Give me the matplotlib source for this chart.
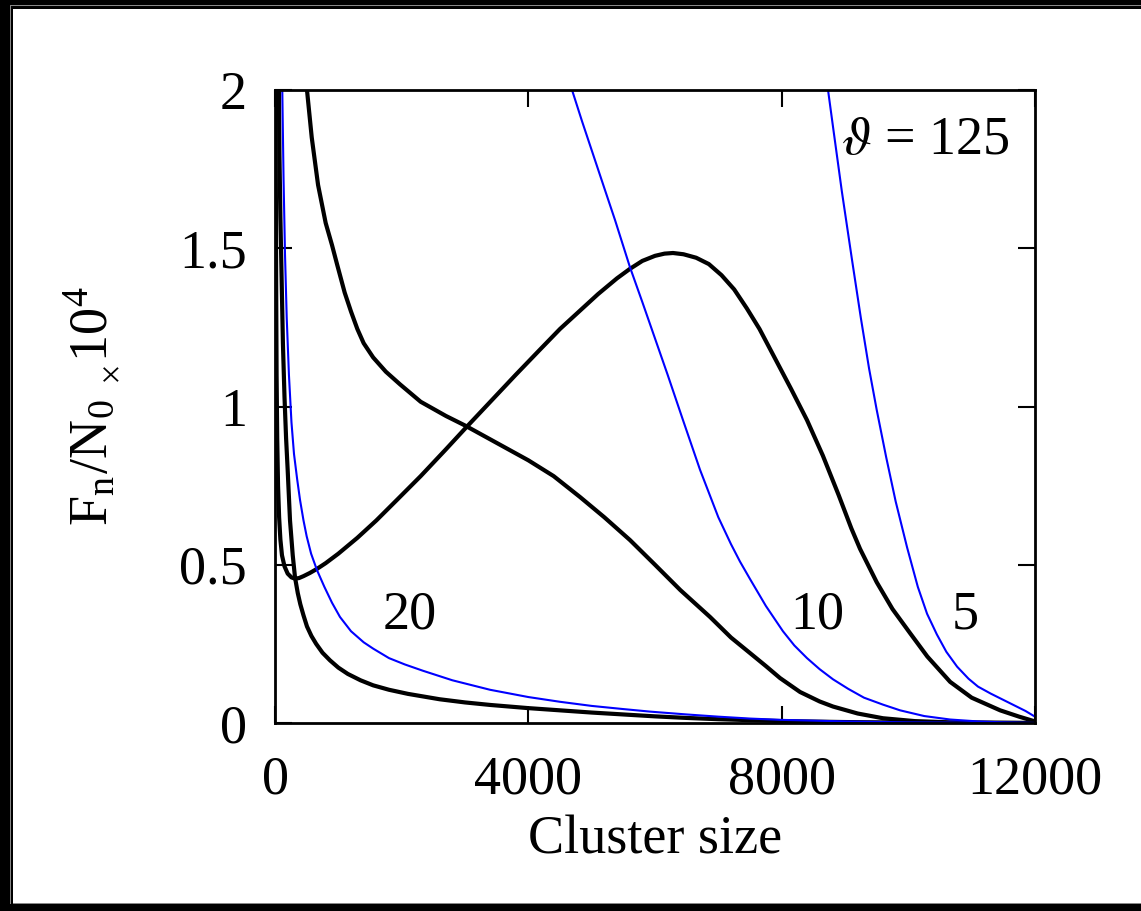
import matplotlib
matplotlib.use('Agg')
import matplotlib.pyplot as plt
from matplotlib.patches import Rectangle

plt.rcParams['font.family'] = ['Liberation Serif', 'DejaVu Serif']
plt.rcParams['mathtext.fontset'] = 'stix'

# cluster-size distributions, F_n/N_0 x 10^4
xticks = [0, 4000, 8000, 12000]
yticks = [0, 0.5, 1, 1.5, 2]
yticklabels = ['0', '0.5', '1', '1.5', '2']

# black curves
k20_x = [40, 55, 70, 85, 100, 125, 150, 175, 200, 237, 280, 316, 360, 400, 450, 505,
         575, 650, 750, 868, 1000, 1150, 1350, 1550, 1800, 2100, 2600, 3000, 3400,
         4000, 4500, 5000, 5500, 6000, 6500, 7000, 7500, 8000, 9000, 10000, 12000]
k20_y = [2.6, 2.15, 1.8, 1.6, 1.45, 1.2, 1.03, 0.9, 0.8, 0.64, 0.53, 0.46, 0.41, 0.375,
         0.34, 0.305, 0.275, 0.25, 0.222, 0.198, 0.175, 0.155, 0.135, 0.119, 0.105,
         0.092, 0.075, 0.065, 0.057, 0.047, 0.04, 0.033, 0.027, 0.021, 0.016, 0.012,
         0.009, 0.006, 0.003, 0.0012, 0.0]

k5_x = [8, 12, 18, 25, 35, 48, 65, 85, 110, 150, 200, 260, 316, 380, 450, 550, 663,
        800, 1000, 1300, 1600, 1926, 2300, 2700, 3000, 3400, 3800, 4185, 4500, 4800,
        5100, 5400, 5605, 5800, 6000, 6150, 6284, 6450, 6650, 6850, 7050, 7250, 7450,
        7650, 7900, 8150, 8400, 8650, 8900, 9100, 9238, 9500, 9750, 10027, 10300,
        10660, 11000, 11450, 11750, 12000]
k5_y = [2.3, 1.8, 1.4, 1.1, 0.9, 0.75, 0.65, 0.58, 0.53, 0.495, 0.472, 0.46, 0.456,
        0.458, 0.464, 0.474, 0.487, 0.505, 0.535, 0.585, 0.64, 0.705, 0.78, 0.865, 0.93,
        1.015, 1.1, 1.18, 1.245, 1.3, 1.355, 1.405, 1.435, 1.46, 1.476, 1.483, 1.485,
        1.481, 1.47, 1.45, 1.415, 1.37, 1.31, 1.245, 1.15, 1.055, 0.957, 0.845, 0.72,
        0.615, 0.55, 0.445, 0.36, 0.284, 0.21, 0.13, 0.08, 0.04, 0.02, 0.005]

k10_x = [440, 505, 580, 680, 800, 900, 979, 1100, 1200, 1300, 1400, 1550, 1750, 1974,
         2300, 2700, 3000, 3500, 4000, 4400, 4816, 5200, 5605, 6000, 6400, 6869, 7200,
         7500, 7750, 7974, 8290, 8600, 8811, 9200, 9600, 10100, 10660, 12000]
k10_y = [2.25, 2.0, 1.85, 1.7, 1.58, 1.51, 1.45, 1.36, 1.3, 1.245, 1.2, 1.155, 1.11,
         1.07, 1.015, 0.97, 0.94, 0.885, 0.83, 0.78, 0.714, 0.65, 0.578, 0.5, 0.42,
         0.335, 0.27, 0.221, 0.18, 0.142, 0.098, 0.068, 0.052, 0.03, 0.015, 0.006,
         0.002, 0.0]

# blue curves
b20_x = [100, 115, 135, 158, 185, 220, 260, 300, 350, 395, 450, 500, 570, 663, 780,
         900, 1026, 1200, 1400, 1550, 1800, 2050, 2337, 2800, 3395, 4000, 4500, 5000,
         5500, 5920, 6500, 7000, 7500, 7974, 9000, 10000, 12000]
b20_y = [2.25, 2.0, 1.72, 1.48, 1.28, 1.1, 0.95, 0.85, 0.77, 0.705, 0.64, 0.59, 0.535,
         0.483, 0.43, 0.38, 0.335, 0.29, 0.255, 0.235, 0.205, 0.185, 0.165, 0.135,
         0.105, 0.082, 0.067, 0.054, 0.044, 0.036, 0.027, 0.02, 0.014, 0.01, 0.005,
         0.002, 0.0]

b10_x = [4600, 4690, 4850, 5000, 5200, 5369, 5605, 5800, 6000, 6200, 6442, 6711, 7000,
         7200, 7342, 7500, 7750, 8020, 8200, 8400, 8600, 8811, 9050, 9300, 9600, 9870,
         10250, 10660, 11100, 11500, 12000]
b10_y = [2.1, 2.0, 1.9, 1.81, 1.69, 1.589, 1.44, 1.33, 1.215, 1.1, 0.957, 0.8, 0.65,
         0.565, 0.51, 0.455, 0.37, 0.29, 0.245, 0.205, 0.17, 0.138, 0.108, 0.08, 0.058,
         0.04, 0.022, 0.011, 0.005, 0.002, 0.0]

b5_x = [8700, 8732, 8820, 8950, 9111, 9250, 9380, 9500, 9650, 9800, 9980, 10150, 10296,
        10450, 10600, 10770, 10950, 11100, 11300, 11450, 11650, 11850, 12000]
b5_y = [2.1, 2.0, 1.87, 1.68, 1.463, 1.28, 1.12, 0.99, 0.84, 0.7, 0.555, 0.43, 0.345,
        0.28, 0.225, 0.178, 0.14, 0.115, 0.093, 0.078, 0.058, 0.038, 0.02]

W, H = 1141, 911
fig = plt.figure(figsize=(W / 100, H / 100), dpi=100)
ax = fig.add_axes([275 / W, 1 - 723 / H, 760 / W, 633 / H])

for xs, ys in [(k20_x, k20_y), (k5_x, k5_y), (k10_x, k10_y)]:
    ax.plot(xs, ys, color='black', lw=3.0, solid_joinstyle='round')
for xs, ys in [(b20_x, b20_y), (b10_x, b10_y), (b5_x, b5_y)]:
    ax.plot(xs, ys, color='#0000ff', lw=1.5, solid_joinstyle='round')

ax.set_xlim(0, 12000)
ax.set_ylim(0, 2)
ax.set_xticks(xticks)
ax.set_xticklabels([str(t) for t in xticks])
ax.set_yticks(yticks)
ax.set_yticklabels(yticklabels)
ax.tick_params(direction='in', length=12, width=1.5, labelsize=39,
               top=True, right=True)
ax.tick_params(axis='x', pad=23)
ax.tick_params(axis='y', pad=20)
for s in ax.spines.values():
    s.set_linewidth(2)

ax.set_xlabel('Cluster size', fontsize=39)
ax.xaxis.set_label_coords(0.5, -0.145)
ax.set_ylabel(r'F$_\mathregular{n}$/N$_\mathregular{0}$ ${}_{{}_{\times}}$10$^\mathregular{4}$',
              fontsize=39)
ax.yaxis.set_label_coords(-0.2, 0.5)

fs = 39
ax.text(2132, 0.34, '20', fontsize=fs, ha='center', va='center')
ax.text(8558, 0.34, '10', fontsize=fs, ha='center', va='center')
ax.text(10895, 0.34, '5', fontsize=fs, ha='center', va='center')
ax.text(10263, 1.84, r'$\vartheta$ = 125', fontsize=fs, ha='center', va='center')

# dark window frame around the figure
def px_rect(x0, y0, w, h, c):
    fig.patches.append(Rectangle((x0 / W, 1 - (y0 + h) / H), w / W, h / H,
                                 transform=fig.transFigure, facecolor=c,
                                 edgecolor='none', zorder=10))

px_rect(0, 0, 13, H, 'black')
px_rect(0, 0, W, 9, 'black')
px_rect(0, H - 8, W, 8, 'black')
px_rect(10, 5, 1, H - 12, '#888888')
px_rect(10, 5, W - 10, 1, '#888888')
px_rect(13, H - 8, W - 13, 1, '#888888')

fig.savefig('out.png', dpi=100)
